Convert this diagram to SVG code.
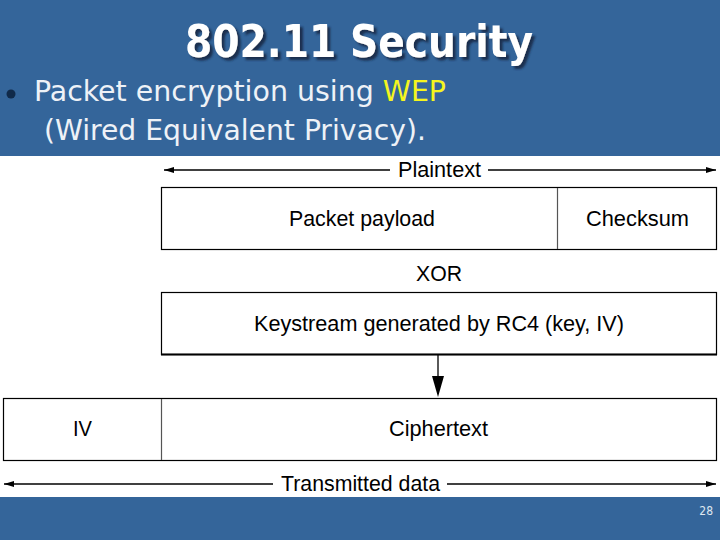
<svg xmlns="http://www.w3.org/2000/svg" width="720" height="540" viewBox="0 0 720 540">
<style>
.lbl{font-family:"Liberation Sans",Arial,sans-serif;font-size:22px;fill:#000;text-anchor:middle}
.box{fill:#fff;stroke:#000;stroke-width:1.2}
.div{stroke:#555;stroke-width:1.2}
.ln{stroke:#000;stroke-width:1.3;fill:none}
.body{font-family:"DejaVu Sans Condensed","DejaVu Sans",sans-serif;font-size:28px;fill:#eef2f7}
</style>
<defs>
<marker id="ah" viewBox="0 0 10 6" refX="10" refY="3" markerWidth="10" markerHeight="6" markerUnits="userSpaceOnUse" orient="auto-start-reverse">
<path d="M0,0 L10,3 L0,6 z" fill="#000"/>
</marker>
<filter id="sh" x="-10%" y="-30%" width="120%" height="160%">
<feDropShadow dx="3" dy="3" stdDeviation="0.8" flood-color="#142a44" flood-opacity="0.9"/>
</filter>
</defs>
<rect x="0" y="0" width="720" height="540" fill="#fff"/>
<rect x="0" y="0" width="720" height="156" fill="#34659a"/>
<rect x="0" y="497" width="720" height="43" fill="#34659a"/>
<g id="title">
<text x="359" y="57" font-family="'DejaVu Sans Condensed','DejaVu Sans',sans-serif" font-weight="bold" font-size="44" fill="#fff" text-anchor="middle" textLength="348" lengthAdjust="spacingAndGlyphs" filter="url(#sh)">802.11 Security</text>
</g>
<g id="bullet">
<circle cx="11" cy="94" r="4.5" fill="#102a4a"/>
<text class="body" x="34" y="101" textLength="412" lengthAdjust="spacingAndGlyphs">Packet encryption using <tspan fill="#f5f51e">WEP</tspan></text>
<text class="body" x="44" y="140" textLength="382" lengthAdjust="spacingAndGlyphs">(Wired Equivalent Privacy).</text>
</g>
<g id="plaintext-box">
<rect class="box" x="161.5" y="187.5" width="555" height="62"/>
<line class="div" x1="557.5" y1="188" x2="557.5" y2="249"/>
<text class="lbl" x="362" y="226" textLength="146" lengthAdjust="spacingAndGlyphs">Packet payload</text>
<text class="lbl" x="637.5" y="226" textLength="103" lengthAdjust="spacingAndGlyphs">Checksum</text>
</g>
<g id="xor"><text class="lbl" x="439" y="281" textLength="46" lengthAdjust="spacingAndGlyphs">XOR</text></g>
<g id="keystream-box">
<rect class="box" x="161.5" y="292.5" width="555" height="62"/>
<line x1="161" y1="354.5" x2="717" y2="354.5" stroke="#000" stroke-width="2.2"/>
<text class="lbl" x="439" y="331" textLength="370" lengthAdjust="spacingAndGlyphs">Keystream generated by RC4 (key, IV)</text>
</g>
<g id="cipher-box">
<rect class="box" x="3.5" y="398.5" width="713" height="62"/>
<line class="div" x1="161.5" y1="399" x2="161.5" y2="460"/>
<text class="lbl" x="82.5" y="436" textLength="19" lengthAdjust="spacingAndGlyphs">IV</text>
<text class="lbl" x="438.5" y="436" textLength="99" lengthAdjust="spacingAndGlyphs">Ciphertext</text>
</g>
<g id="connectors">
<line class="ln" x1="164" y1="170" x2="390" y2="170" marker-start="url(#ah)"/>
<line class="ln" x1="488" y1="170" x2="716" y2="170" marker-end="url(#ah)"/>
<line class="ln" x1="438" y1="355" x2="438" y2="378" stroke-width="2"/>
<path d="M432,376 L444,376 L438,397 z" fill="#000"/>
<line class="ln" x1="4" y1="484" x2="273" y2="484" marker-start="url(#ah)"/>
<line class="ln" x1="447" y1="484" x2="716" y2="484" marker-end="url(#ah)"/>
</g>
<g id="labels">
<text class="lbl" x="439.5" y="177" textLength="83" lengthAdjust="spacingAndGlyphs">Plaintext</text>
<text class="lbl" x="360.5" y="491" textLength="159" lengthAdjust="spacingAndGlyphs">Transmitted data</text>
<text x="713" y="515" font-family="'DejaVu Sans Condensed','DejaVu Sans',sans-serif" font-size="12" fill="#dfe7f0" text-anchor="end">28</text>
</g>
</svg>
